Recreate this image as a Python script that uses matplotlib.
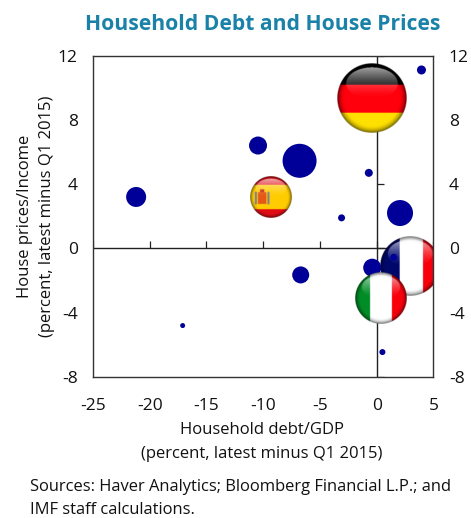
import numpy as np
import matplotlib
matplotlib.use('Agg')
import matplotlib.pyplot as plt
from matplotlib.markers import TICKUP, TICKRIGHT

plt.rcParams['font.family'] = ['Open Sans', 'DejaVu Sans']
plt.rcParams['axes.unicode_minus'] = False

# Blue bubbles
debt = [3.94, -10.46, -6.8, -0.7, -21.2, -3.1, 2.05, -17.1, -6.7, -0.4, 1.5, 0.5]
prices = [11.1, 6.4, 5.45, 4.7, 3.2, 1.9, 2.2, -4.8, -1.65, -1.2, -0.55, -6.45]
diam_px = [9, 18, 34, 8, 20, 7, 26, 5, 17, 18, 7, 6]

# Flag bubbles
flag_names = ['Germany', 'Spain', 'France', 'Italy']
flag_debt = [-0.45, -9.35, 2.93, 0.4]
flag_prices = [9.35, 3.2, -1.1, -3.07]
flag_diam_px = [70, 42, 60, 52]
flag_order = [5, 5, 1.5, 5]  # France sits under the blue bubbles

xticks = [-25, -20, -15, -10, -5, 0, 5]
yticks = [-8, -4, 0, 4, 8, 12]


def flag_image(name, n=200):
    # flag drawn on a glossy ball, returned as an rgba array
    c = np.linspace(-1, 1, n)
    xx, yy = np.meshgrid(c, c)  # yy goes downward
    rr = np.sqrt(xx**2 + yy**2)
    img = np.ones((n, n, 4))
    if name == 'Germany':
        img[..., :3] = [1.0, 0.0, 0.05]
        img[yy < -0.38] = [0.0, 0.0, 0.0, 1]
        img[yy > 0.42] = [1.0, 0.88, 0.0, 1]
    elif name == 'Spain':
        img[..., :3] = [1.0, 0.8, 0.0]
        img[np.abs(yy) > 0.58] = [0.88, 0.05, 0.08, 1]
        img[(np.abs(xx + 0.42) < 0.2) & (np.abs(yy - 0.05) < 0.28)] = [0.9, 0.35, 0.08, 1]
        img[(np.abs(xx + 0.42) < 0.1) & (np.abs(yy + 0.3) < 0.07)] = [0.8, 0.15, 0.1, 1]
        img[(np.abs(np.abs(xx + 0.42) - 0.3) < 0.05) & (np.abs(yy - 0.05) < 0.3)] = [0.5, 0.5, 0.6, 1]
    elif name == 'France':
        img[..., :3] = [1, 1, 1]
        img[xx < -0.35] = [0.0, 0.03, 0.42, 1]
        img[xx > 0.42] = [0.97, 0.0, 0.05, 1]
    else:
        img[..., :3] = [1, 1, 1]
        img[xx < -0.42] = [0.0, 0.55, 0.15, 1]
        img[xx > 0.42] = [0.97, 0.0, 0.05, 1]
    # darker toward the rim
    shade = 1 - 0.6 * np.clip((rr - 0.78) / 0.22, 0, 1) ** 2
    img[..., :3] *= shade[..., None]
    # gloss cap on the upper half
    gloss = ((xx / 0.74) ** 2 + ((yy + 0.42) / 0.46) ** 2) < 1
    amount = 0.62 * np.clip((-0.02 - yy) / 0.85, 0, 1) ** 1.4
    img[..., :3] = np.where(gloss[..., None],
                            img[..., :3] + (1 - img[..., :3]) * amount[..., None],
                            img[..., :3])
    img[..., 3] = np.clip((1 - rr) * n / 2, 0, 1)
    return img


fig = plt.figure(figsize=(4.71, 5.18), dpi=100)
ax = fig.add_axes([93 / 471, 1 - 377 / 518, 340.5 / 471, 321.5 / 518])

# zero lines with their ticks
ax.axhline(0, color='#222222', lw=1, zorder=1)
ax.axvline(0, color='#222222', lw=1, zorder=1)
ax.plot(xticks, [0] * len(xticks), ls='none', marker=TICKUP, ms=5, mew=0.9, color='#222222', zorder=1)
ax.plot([0] * len(yticks), yticks, ls='none', marker=TICKRIGHT, ms=5, mew=0.9, color='#222222', zorder=1)

ax.scatter(debt, prices, s=[(d * 0.72) ** 2 for d in diam_px], color='#000099', linewidths=0, zorder=2)

px_x = 340.5 / 30
px_y = 321.5 / 20
for i, name in enumerate(flag_names):
    rx = flag_diam_px[i] / 2 / px_x
    ry = flag_diam_px[i] / 2 / px_y
    ax.imshow(flag_image(name), aspect='auto', interpolation='bilinear', zorder=flag_order[i],
              extent=[flag_debt[i] - rx, flag_debt[i] + rx, flag_prices[i] - ry, flag_prices[i] + ry])
ax.set_xlim(-25, 5)
ax.set_ylim(-8, 12)

ax.set_xticks(xticks)
ax.set_yticks(yticks)
ax.tick_params(length=0, labelsize=12.5, labelright=True, colors='#111111')
ax.tick_params(axis='x', pad=15)
ax.tick_params(axis='y', pad=11)
for s in ax.spines.values():
    s.set_color('#333333')
    s.set_linewidth(1)

fig.text(263 / 471, 1 - 25 / 518, 'Household Debt and House Prices', ha='center', va='center',
         fontsize=15.2, fontweight='bold', color='#1a82a8')
fig.text(262 / 471, 1 - 430 / 518, 'Household debt/GDP', ha='center', va='center', fontsize=12, color='#111111')
fig.text(262 / 471, 1 - 454 / 518, '(percent, latest minus Q1 2015)', ha='center', va='center', fontsize=12, color='#111111')
fig.text(25 / 471, 1 - 216 / 518, 'House prices/Income', rotation=90, ha='center', va='center', fontsize=12, color='#111111')
fig.text(47 / 471, 1 - 216 / 518, '(percent, latest minus Q1 2015)', rotation=90, ha='center', va='center', fontsize=12, color='#111111')
fig.text(30 / 471, 1 - 487 / 518, 'Sources: Haver Analytics; Bloomberg Financial L.P.; and', ha='left', va='center', fontsize=11.9, color='#111111')
fig.text(30 / 471, 1 - 510 / 518, 'IMF staff calculations.', ha='left', va='center', fontsize=11.9, color='#111111')

fig.savefig('out.png', dpi=100)
